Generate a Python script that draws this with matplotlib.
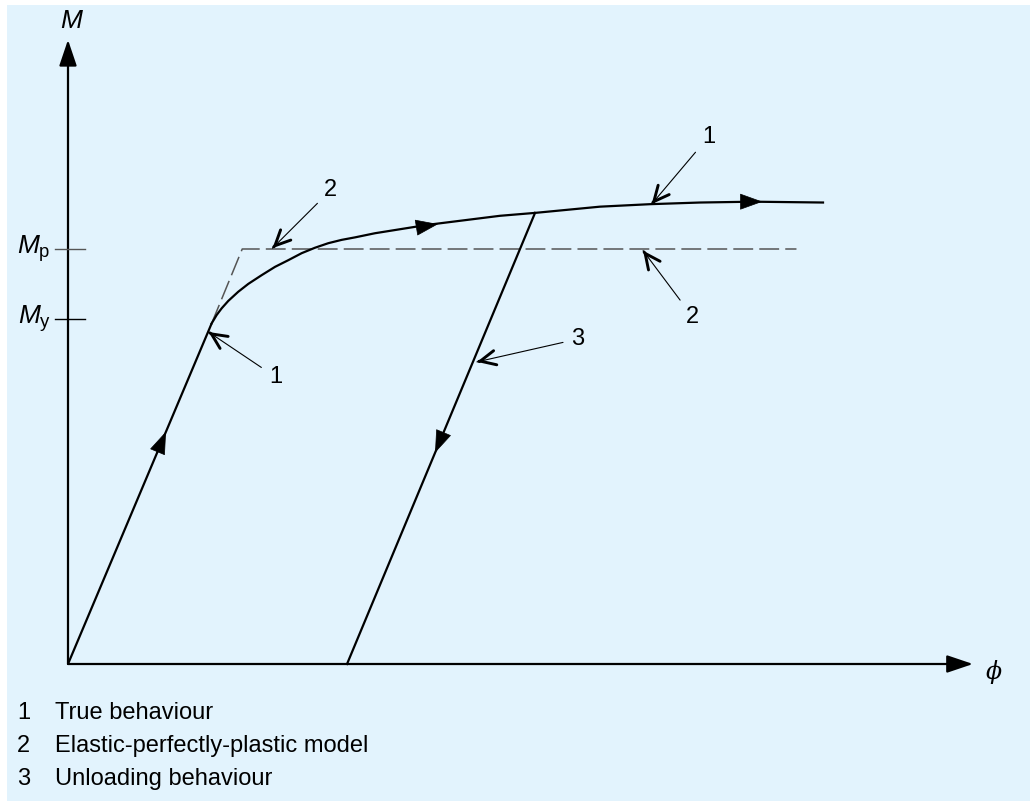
import matplotlib
matplotlib.use("Agg")
import matplotlib.pyplot as plt
from matplotlib.patches import Rectangle, FancyArrowPatch

plt.rcParams['font.family'] = ['Liberation Sans', 'DejaVu Sans']
plt.rcParams['mathtext.fontset'] = 'custom'
plt.rcParams['mathtext.rm'] = 'Liberation Sans'
plt.rcParams['mathtext.it'] = 'Liberation Sans:italic'

# moment levels (M_p = 1)
M_y = 0.831
M_p = 1.0

# elastic branch
elastic_phi = [0.0, 1.012]
elastic_M = [0.0, 0.821]

# true behaviour
true_phi = [1.012, 1.047, 1.082, 1.129, 1.199, 1.270, 1.364, 1.458, 1.551, 1.646,
            1.739, 1.833, 1.927, 2.021, 2.162, 2.528, 3.042, 3.289, 3.746, 4.099,
            4.451, 4.824, 5.317]
true_M = [0.821, 0.841, 0.857, 0.875, 0.897, 0.916, 0.937, 0.957, 0.973, 0.990,
          1.003, 1.014, 1.022, 1.028, 1.038, 1.058, 1.080, 1.087, 1.102, 1.108,
          1.112, 1.114, 1.112]

# elastic-perfectly-plastic model (beyond the yield point)
epp_phi = [1.012, 1.227, 5.13]
epp_M = [0.821, 1.0, 1.0]

# unloading
unload_phi = [3.289, 1.965]
unload_M = [1.087, 0.0]

# callouts: label, text position, arrow tip
callouts = [
    ("1", (4.51, 1.270), (4.11, 1.108)),
    ("2", (4.40, 0.836), (4.05, 0.996)),
    ("2", (1.85, 1.142), (1.44, 1.002)),
    ("1", (1.46, 0.692), (0.99, 0.800)),
    ("3", (3.59, 0.783), (2.88, 0.728)),
]

legend_items = ["True behaviour", "Elastic-perfectly-plastic model", "Unloading behaviour"]

fig = plt.figure(figsize=(10.30, 8.01), dpi=100)
fig.patch.set_facecolor('white')
fig.patches.append(Rectangle((7 / 1030, 0), 1, 1 - 5 / 801, transform=fig.transFigure,
                             facecolor='#E2F3FD', edgecolor='none', zorder=-5))

ax = fig.add_axes([0, 0, 1, 1])
ax.set_facecolor('none')
ax.set_xlim(-68 / 142, (1030 - 68) / 142)
ax.set_ylim(-(801 - 664) / 415, 664 / 415)
ax.axis('off')

# axes with arrows
axis_style = '-|>,head_length=0.8,head_width=0.27'
ax.add_patch(FancyArrowPatch((0, 0), (0, 1.504), arrowstyle=axis_style, mutation_scale=20,
                             color='black', lw=1.6, shrinkA=0, shrinkB=0))
ax.add_patch(FancyArrowPatch((0, 0), (6.373, 0), arrowstyle=axis_style, mutation_scale=20,
                             color='black', lw=1.6, shrinkA=0, shrinkB=0))
ax.text(0.02, 1.55, "M", fontsize=19, style='italic', ha='center', va='center')
ax.text(6.52, -0.02, "ϕ", fontsize=17, style='italic', family='DejaVu Serif',
        ha='center', va='center')

# M_p, M_y ticks
ax.plot([-0.092, 0.12], [M_p, M_p], color='#555555', lw=1.0)
ax.plot([-0.092, 0.12], [M_y, M_y], color='black', lw=1.0)
ax.text(-0.12, M_p, r"$M_{\mathrm{p}}$", fontsize=19, ha='right', va='center')
ax.text(-0.12, M_y, r"$M_{\mathrm{y}}$", fontsize=19, ha='right', va='center')

# curves
ax.plot(epp_phi, epp_M, color='#555555', lw=1.1, dashes=(13, 4))
ax.plot(elastic_phi, elastic_M, color='black', lw=1.6, solid_capstyle='butt')
ax.plot(true_phi, true_M, color='black', lw=1.6, solid_joinstyle='round')
ax.plot(unload_phi, unload_M, color='black', lw=1.6)

# direction arrows along the lines
mid_style = '-|>,head_length=0.75,head_width=0.27'
dir_arrows = [
    ((0.64, 0.519), (0.69, 0.560)),
    ((2.645, 0.558), (2.585, 0.509)),
    ((2.48, 1.053), (2.606, 1.060)),
    ((4.75, 1.114), (4.89, 1.114)),
]
for start, end in dir_arrows:
    ax.add_patch(FancyArrowPatch(start, end, arrowstyle=mid_style, mutation_scale=20,
                                 color='black', lw=0.5, shrinkA=0, shrinkB=0))

# callouts: thin leader line + heavier open head
for label, txt, tip in callouts:
    ax.annotate(label, xy=tip, xytext=txt, fontsize=17, ha='center', va='center',
                arrowprops=dict(arrowstyle='-', color='black', lw=0.8,
                                shrinkA=4, shrinkB=0))
    back = (tip[0] + 0.02 * (txt[0] - tip[0]), tip[1] + 0.02 * (txt[1] - tip[1]))
    ax.add_patch(FancyArrowPatch(back, tip, arrowstyle='->,head_length=0.55,head_width=0.26',
                                 mutation_scale=20, color='black', lw=2.1,
                                 shrinkA=0, shrinkB=0))

# legend text
for i, item in enumerate(legend_items):
    y = 1 - (713 + 33 * i) / 801
    fig.text(17 / 1030, y, str(i + 1), fontsize=17, ha='left', va='center')
    fig.text(55 / 1030, y, item, fontsize=17, ha='left', va='center')

fig.savefig("out.png", dpi=100, facecolor='white')
